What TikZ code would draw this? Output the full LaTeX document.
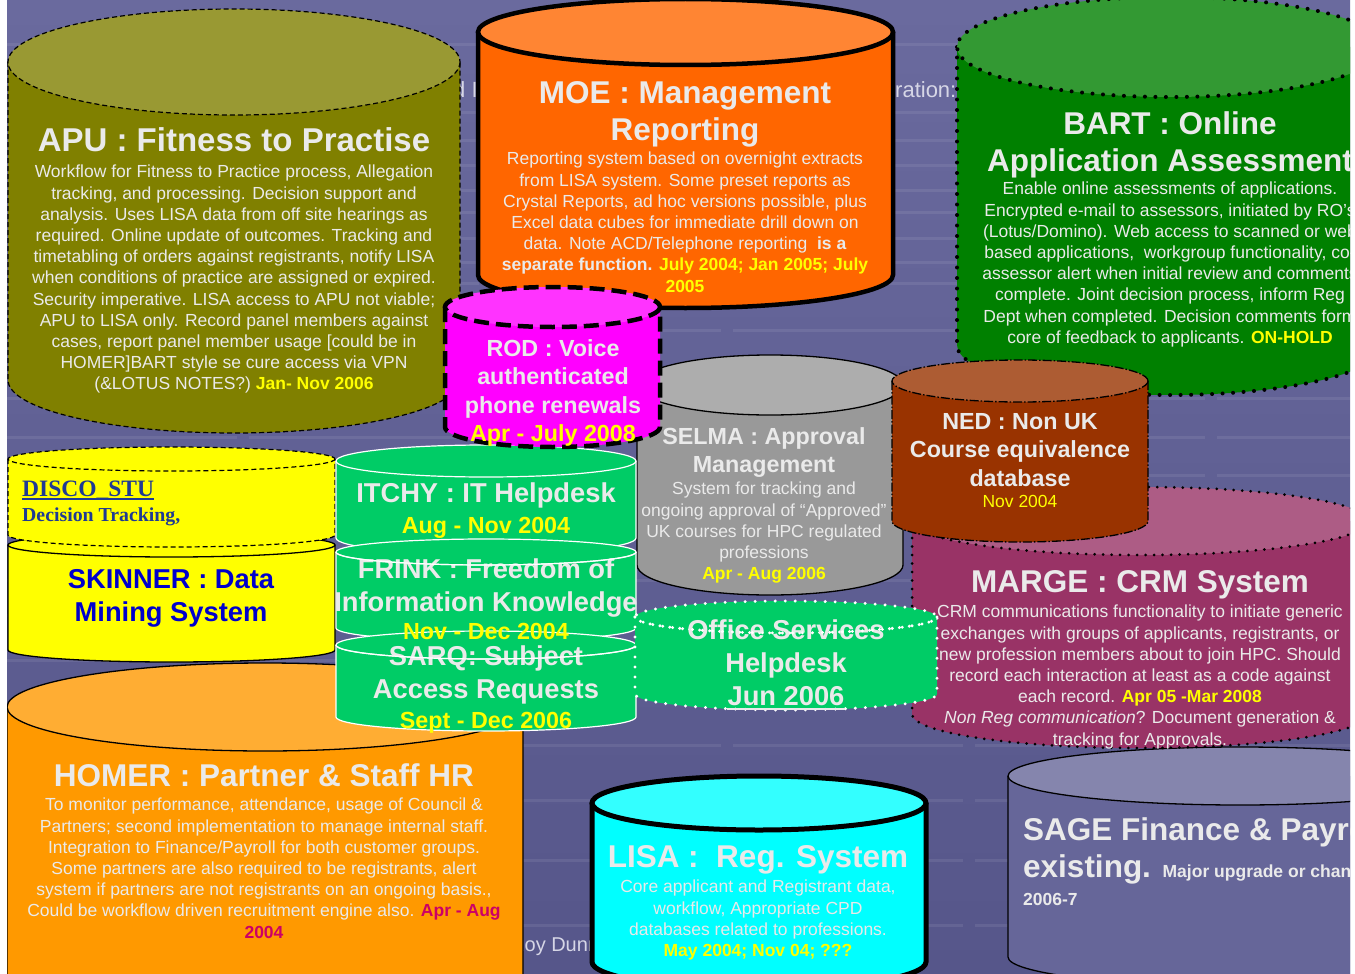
\documentclass[tikz,border=0pt]{standalone}
\usepackage{fontspec}
\setmainfont{Liberation Sans}
\newfontfamily\serifface{Liberation Serif}

\definecolor{slatetop}{HTML}{6A6A9E}
\definecolor{slatebot}{HTML}{56568A}
\definecolor{txtlight}{HTML}{EAEAEA}
\definecolor{ghost}{HTML}{D6D6E6}
\definecolor{dateyel}{HTML}{FFFF00}
\definecolor{olivebody}{HTML}{808000}
\definecolor{olivelid}{HTML}{999933}
\definecolor{moebody}{HTML}{FF6600}
\definecolor{moelid}{HTML}{FF8533}
\definecolor{bartbody}{HTML}{008000}
\definecolor{bartlid}{HTML}{339933}
\definecolor{rodbody}{HTML}{FF00FF}
\definecolor{rodlid}{HTML}{FF33FF}
\definecolor{selmabody}{HTML}{999999}
\definecolor{selmalid}{HTML}{ADADAD}
\definecolor{nedbody}{HTML}{993300}
\definecolor{nedlid}{HTML}{AD5C33}
\definecolor{margebody}{HTML}{993366}
\definecolor{margelid}{HTML}{AD5C85}
\definecolor{skinyellow}{HTML}{FFFF00}
\definecolor{helpgreen}{HTML}{00CC66}
\definecolor{homerbody}{HTML}{FF9900}
\definecolor{homerlid}{HTML}{FFAD33}
\definecolor{lisabody}{HTML}{00FFFF}
\definecolor{lisalid}{HTML}{33FFFF}
\definecolor{sagebody}{HTML}{666699}
\definecolor{sagelid}{HTML}{8585AD}
\definecolor{homerdate}{HTML}{CC0066}
\definecolor{skinblue}{HTML}{0000CC}
\definecolor{discoblue}{HTML}{1F3A93}

\newcommand{\hdfont}{\fontsize{31.5}{37}\selectfont\bfseries}
\newcommand{\midfont}{\fontsize{27.3}{33}\selectfont\bfseries}
\newcommand{\smlfont}{\fontsize{23.3}{28.5}\selectfont\bfseries}
\newcommand{\txtfont}{\fontsize{17.5}{21.2}\selectfont}
\newcommand{\datetag}[1]{\textbf{\textcolor{dateyel}{#1}}}

% drum: centre x, radius x, lid y, base y, radius y, body, lid, outline
\newcommand{\drum}[8]{%
	\fill[#6] (#1-#2,#3) -- (#1-#2,#4) arc[start angle=180,end angle=0,x radius=#2,y radius=#5] -- (#1+#2,#3) -- cycle;
	\draw[#8] (#1-#2,#3) -- (#1-#2,#4) arc[start angle=180,end angle=0,x radius=#2,y radius=#5] -- (#1+#2,#3);
	\filldraw[fill=#7,#8] (#1,#3) ellipse[x radius=#2,y radius=#5];
}
% front rim of a lid, drawn again over the labels
\newcommand{\drumlid}[5]{\draw[#5] (#1-#2,#3) arc[start angle=180,end angle=0,x radius=#2,y radius=#4];}

\begin{document}
\begin{tikzpicture}[x=1pt,y=-1pt]
	\tikzset{every node/.style={inner sep=0pt, align=center, anchor=north, text=txtlight},
		hd/.style={font=\hdfont},
		hdmid/.style={font=\midfont},
		hdsml/.style={font=\smlfont},
		txt/.style={font=\txtfont},
		apuline/.style={draw=black, line width=1.2pt, dash pattern=on 5pt off 3pt},
		moeline/.style={draw=black, line width=4.5pt},
		bartline/.style={draw=black, line width=4pt, line cap=round, dash pattern=on 0pt off 10.5pt},
		rodline/.style={draw=black, line width=4.5pt, dash pattern=on 15pt off 7pt},
		plainline/.style={draw=black, line width=1.3pt},
		nedline/.style={draw=black, line width=1.3pt, dash pattern=on 9pt off 2pt on 1.5pt off 2pt},
		margeline/.style={draw=black, line width=3pt, line cap=round, dash pattern=on 0pt off 8.5pt},
		discoline/.style={draw=black, line width=1.2pt, dash pattern=on 5pt off 3pt},
		helpline/.style={draw=white, line width=1.2pt},
		officeline/.style={draw=white, line width=3.3pt, line cap=round, dash pattern=on 0pt off 10pt},
		lisaline/.style={draw=black, line width=5pt}
	}
	\useasboundingbox (0,0) rectangle (1355,974);
	\fill[white] (0,0) rectangle (1355,974);
	\begin{scope}
	\clip (7,0) rectangle (1350,974);
	\shade[top color=slatetop, bottom color=slatebot] (7,0) rectangle (1350,974);
	\foreach \y in {45,112,140,165,190,212,238,262,283,330,398,437,475,512,580,615,660,745,800,860,925}
		\draw[white, opacity=0.08, line width=3pt, dash pattern=on 230pt off 12pt] (7,\y) -- (1350,\y);

	\node (head-a) at (453,97) [anchor=base west, text=ghost, font=\fontsize{22}{26}\selectfont] {d I};
	\node (head-b) at (895,98) [anchor=base west, text=ghost, font=\fontsize{22}{26}\selectfont] {ration:};
	\node (foot) at (510,951) [anchor=base west, text=ghost, font=\fontsize{20}{24}\selectfont] {Roy Dunn};

	% APU
	\drum{234}{226}{62}{380}{53}{olivebody}{olivelid}{apuline}
	\node (apu-title) at (234,127) [font=\fontsize{33}{39}\selectfont\bfseries] {APU : Fitness to Practise};
	\node (apu-text) at (234,165) [txt] {Workflow for Fitness to Practice process, Allegation\\tracking, and processing. Decision support and\\analysis. Uses LISA data from off site hearings as\\required. Online update of outcomes. Tracking and\\timetabling of orders against registrants, notify LISA\\when conditions of practice are assigned or expired.\\Security imperative. LISA access to APU not viable;\\APU to LISA only. Record panel members against\\cases, report panel member usage [could be in\\HOMER]BART style se cure access via VPN\\(\&LOTUS NOTES?) \datetag{Jan- Nov 2006}};

	% MOE
	\drum{685.5}{207.5}{32}{275}{33}{moebody}{moelid}{moeline}
	\node (moe-title) at (685,81) [hd] {MOE : Management\\Reporting};
	\node (moe-text) at (685,152) [txt] {Reporting system based on overnight extracts\\from LISA system. Some preset reports as\\Crystal Reports, ad hoc versions possible, plus\\Excel data cubes for immediate drill down on\\data. Note ACD/Telephone reporting \ \textbf{is a}\\\textbf{separate function.} \datetag{July 2004; Jan 2005; July}\\\datetag{2005}};

	% BART
	\drum{1170}{213}{47}{345}{50}{bartbody}{bartlid}{bartline}
	\node (bart-title) at (1170,111) [hd] {BART : Online\\Application Assessment};
	\node (bart-text) at (1170,182) [txt] {Enable online assessments of applications.\\Encrypted e-mail to assessors, initiated by RO’s\\(Lotus/Domino). Web access to scanned or web\\based applications, \ workgroup functionality, co-\\assessor alert when initial review and comments\\complete. Joint decision process, inform Reg\\Dept when completed. Decision comments form\\core of feedback to applicants. \datetag{ON-HOLD}};

	% SELMA
	\drum{770}{133}{385}{565}{30}{selmabody}{selmalid}{plainline}
	\node (selma-title) at (764,427) [hdsml] {SELMA : Approval\\Management};
	\node (selma-text) at (764,482) [txt] {System for tracking and\\ongoing approval of “Approved”\\UK courses for HPC regulated\\professions\\\datetag{Apr - Aug 2006}};

	% SAGE
	\drum{1240}{232}{776}{957}{29}{sagebody}{sagelid}{plainline}
	\node (sage-title) at (1023,840) [hd, anchor=base west] {SAGE Finance \& Payroll};
	\node (sage-note) at (1023,877) [hd, anchor=base west] {existing. {\fontsize{17.5}{21}\selectfont Major upgrade or change}};
	\node (sage-date) at (1023,905) [anchor=base west, font=\txtfont\bfseries] {2006-7};

	% MARGE
	\drum{1140}{228}{521}{714}{34}{margebody}{margelid}{margeline}
	\node (marge-title) at (1140,570) [hd] {MARGE : CRM System};
	\node (marge-text) at (1140,605) [txt] {CRM communications functionality to initiate generic\\exchanges with groups of applicants, registrants, or\\new profession members about to join HPC. Should\\record each interaction at least as a code against\\each record. \datetag{Apr 05 -Mar 2008}\\\textit{Non Reg communication}? Document generation \&\\tracking for Approvals.};

	% NED
	\drum{1020}{128}{381}{521}{21}{nedbody}{nedlid}{nedline}
	\node (ned-title) at (1020,413) [hdsml] {NED : Non UK\\Course equivalence\\database};
	\node (ned-date) at (1020,495) [txt, text=dateyel] {Nov 2004};

	% HOMER
	\drum{265}{258}{707}{1010}{44}{homerbody}{homerlid}{plainline}
	\node (homer-title) at (264,763) [hd] {HOMER : Partner \& Staff HR};
	\node (homer-text) at (264,798) [txt] {To monitor performance, attendance, usage of Council \&\\Partners; second implementation to manage internal staff.\\Integration to Finance/Payroll for both customer groups.\\Some partners are also required to be registrants, alert\\system if partners are not registrants on an ongoing basis.,\\Could be workflow driven recruitment engine also. \textbf{\textcolor{homerdate}{Apr - Aug}}\\\textbf{\textcolor{homerdate}{2004}}};

	% SKINNER and DISCO_STU
	\drum{171.5}{163.5}{545}{650}{12}{skinyellow}{skinyellow}{plainline}
	\node (skinner-title) at (171,569) [hdmid, text=skinblue] {SKINNER : Data\\Mining System};
	\drum{171.5}{163.5}{459}{535}{12}{skinyellow}{skinyellow}{discoline}
	\node (disco-name) at (22,496) [anchor=base west, text=discoblue, font=\serifface\fontsize{23.5}{28}\selectfont\bfseries] {DISCO\_STU};
	\node (disco-text) at (22,521) [anchor=base west, text=discoblue, font=\serifface\fontsize{19.8}{24}\selectfont\bfseries] {Decision Tracking,};
	\draw[discoblue, line width=1.3pt] ([yshift=-3pt]disco-name.base west) -- ([yshift=-3pt]disco-name.base east);

	% ITCHY, FRINK, SARQ
	\drum{486}{150}{461}{538}{16}{helpgreen}{helpgreen}{helpline}
	\drum{486}{150}{552}{628}{13}{helpgreen}{helpgreen}{helpline}
	\drum{486}{150}{645}{717}{14}{helpgreen}{helpgreen}{helpline}
	\node (itchy-title) at (486,483) [hdmid] {ITCHY : IT Helpdesk};
	\node (itchy-date) at (486,517) [hdsml, text=dateyel] {Aug - Nov 2004};
	\node (frink-title) at (486,559) [hdmid] {FRINK : Freedom of\\Information Knowledge};
	\node (frink-date) at (486,623) [hdsml, text=dateyel] {Nov - Dec 2004};
	\node (sarq-title) at (486,646) [hdmid] {SARQ: Subject\\Access Requests};
	\node (sarq-date) at (486,712) [hdsml, text=dateyel] {Sept - Dec 2006};
	\drumlid{486}{150}{552}{13}{helpline}
	\drumlid{486}{150}{645}{14}{helpline}

	% ROD
	\drum{552.5}{107.5}{307}{427}{20}{rodbody}{rodlid}{rodline}
	\node (rod-text) at (553,339) [hdsml] {ROD : Voice\\authenticated\\phone renewals\\\textcolor{dateyel}{Apr - July 2008}};

	% Office Services
	\drum{786}{151}{617}{694}{16}{helpgreen}{helpgreen}{officeline}
	\node (office-title) at (786,620) [hdmid] {Office Services\\Helpdesk};
	\node (office-date) at (786,705) [hdmid, anchor=base] {Jun 2006};
	\draw[txtlight, line width=2pt] ([yshift=-3.5pt]office-date.base west) -- ([yshift=-3.5pt]office-date.base east);
	\drumlid{786}{151}{617}{16}{officeline}

	% LISA
	\drum{759}{167}{803}{962}{27}{lisabody}{lisalid}{lisaline}
	\node (lisa-title) at (758,845) [hd] {LISA :\ \ Reg. System};
	\node (lisa-text) at (758,880) [txt] {Core applicant and Registrant data,\\workflow, Appropriate CPD\\databases related to professions.\\\datetag{May 2004; Nov 04; ???}};
	\end{scope}
\end{tikzpicture}
\end{document}
